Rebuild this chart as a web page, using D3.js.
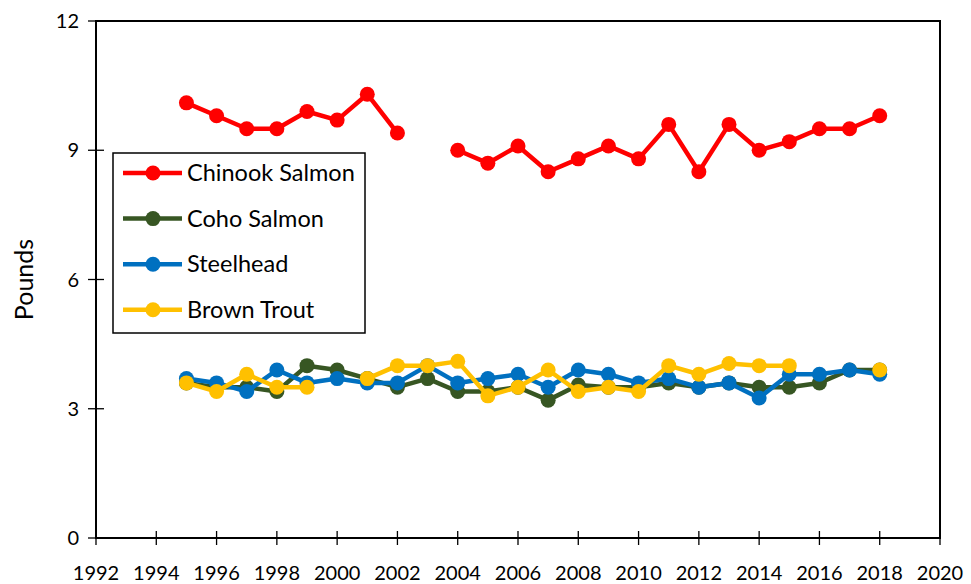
<!DOCTYPE html>
<html>
<head>
<meta charset="utf-8">
<script src="https://cdn.jsdelivr.net/npm/d3@7"></script>
<style>
  body { margin: 0; background: #fff; }
  svg { display: block; font-family: Lato, "Open Sans", sans-serif; }
</style>
</head>
<body>
<svg id="chart" width="971" height="584"></svg>
<script>
var years = d3.range(1995, 2019);
// null = no value that year
var chinook = [10.1, 9.8, 9.5, 9.5, 9.9, 9.7, 10.3, 9.4, null, 9.0, 8.7, 9.1, 8.5, 8.8, 9.1, 8.8, 9.6, 8.5, 9.6, 9.0, 9.2, 9.5, 9.5, 9.8];
var coho = [3.6, 3.5, 3.5, 3.4, 4.0, 3.9, 3.7, 3.5, 3.7, 3.4, 3.4, 3.5, 3.2, 3.55, 3.5, 3.5, 3.6, 3.5, 3.6, 3.5, 3.5, 3.6, 3.9, 3.9];
var steelhead = [3.7, 3.6, 3.4, 3.9, 3.6, 3.7, 3.6, 3.6, 4.0, 3.6, 3.7, 3.8, 3.5, 3.9, 3.8, 3.6, 3.7, 3.5, 3.6, 3.25, 3.8, 3.8, 3.9, 3.8];
var brown = [3.6, 3.4, 3.8, 3.5, 3.5, null, 3.7, 4.0, 4.0, 4.1, 3.3, 3.5, 3.9, 3.4, 3.5, 3.4, 4.0, 3.8, 4.05, 4.0, 4.0, null, null, 3.9];

var seriesNames = ["Chinook Salmon", "Coho Salmon", "Steelhead", "Brown Trout"];
var seriesColors = ["#ff0000", "#375623", "#0070c0", "#ffc000"];
var seriesValues = [chinook, coho, steelhead, brown];

var xTicks = d3.range(1992, 2021, 2);
var yTicks = [0, 3, 6, 9, 12];

var svg = d3.select("#chart");
var plotLeft = 96, plotRight = 940, plotTop = 21, plotBottom = 538;

var x = d3.scaleLinear().domain([1992, 2020]).range([plotLeft, plotRight]);
var y = d3.scaleLinear().domain([0, 12]).range([plotBottom, plotTop]);

// plot frame
svg.append("rect")
    .attr("x", plotLeft).attr("y", plotTop)
    .attr("width", plotRight - plotLeft).attr("height", plotBottom - plotTop)
    .attr("fill", "none").attr("stroke", "#000").attr("stroke-width", 2);

// ticks cross the axis lines
var xAxis = svg.append("g");
xAxis.selectAll("line").data(xTicks).enter().append("line")
    .attr("x1", function (d) { return x(d); }).attr("x2", function (d) { return x(d); })
    .attr("y1", plotBottom - 7).attr("y2", plotBottom + 7)
    .attr("stroke", "#000").attr("stroke-width", 1.3);
xAxis.selectAll("text").data(xTicks).enter().append("text")
    .attr("x", function (d) { return x(d); })
    .attr("y", plotBottom + 42)
    .attr("text-anchor", "middle")
    .attr("font-size", 20)
    .text(function (d) { return d; });

var yAxis = svg.append("g");
yAxis.selectAll("line").data(yTicks).enter().append("line")
    .attr("x1", plotLeft - 8).attr("x2", plotLeft + 8)
    .attr("y1", function (d) { return y(d); }).attr("y2", function (d) { return y(d); })
    .attr("stroke", "#000").attr("stroke-width", 1.3);
yAxis.selectAll("text").data(yTicks).enter().append("text")
    .attr("x", plotLeft - 17)
    .attr("y", function (d) { return y(d); })
    .attr("dy", "0.35em")
    .attr("text-anchor", "end")
    .attr("font-size", 20)
    .text(function (d) { return d; });

svg.append("text")
    .attr("transform", "translate(33," + ((plotTop + plotBottom) / 2) + ") rotate(-90)")
    .attr("text-anchor", "middle")
    .attr("font-size", 25)
    .text("Pounds");

// series
var line = d3.line()
    .defined(function (d) { return d.v != null; })
    .x(function (d) { return x(d.year); })
    .y(function (d) { return y(d.v); });

seriesValues.forEach(function (vals, i) {
    var pts = years.map(function (yr, j) { return { year: yr, v: vals[j] }; });
    var g = svg.append("g");
    g.append("path")
        .datum(pts)
        .attr("d", line)
        .attr("fill", "none")
        .attr("stroke", seriesColors[i])
        .attr("stroke-width", 4.5)
        .attr("stroke-linejoin", "round");
    g.selectAll("circle")
        .data(pts.filter(function (d) { return d.v != null; }))
        .enter().append("circle")
        .attr("cx", function (d) { return x(d.year); })
        .attr("cy", function (d) { return y(d.v); })
        .attr("r", 7.5)
        .attr("fill", seriesColors[i]);
});

// legend
var legend = svg.append("g");
legend.append("rect")
    .attr("x", 113).attr("y", 153)
    .attr("width", 252).attr("height", 180)
    .attr("fill", "#fff").attr("stroke", "#000").attr("stroke-width", 1.5);
seriesNames.forEach(function (name, i) {
    var ly = 173 + i * 45.6;
    legend.append("line")
        .attr("x1", 123).attr("x2", 182)
        .attr("y1", ly).attr("y2", ly)
        .attr("stroke", seriesColors[i]).attr("stroke-width", 4.5);
    legend.append("circle")
        .attr("cx", 153).attr("cy", ly).attr("r", 7.5)
        .attr("fill", seriesColors[i]);
    legend.append("text")
        .attr("x", 187).attr("y", ly)
        .attr("dy", "0.35em")
        .attr("font-size", 23.5)
        .text(name);
});
</script>
</body>
</html>
